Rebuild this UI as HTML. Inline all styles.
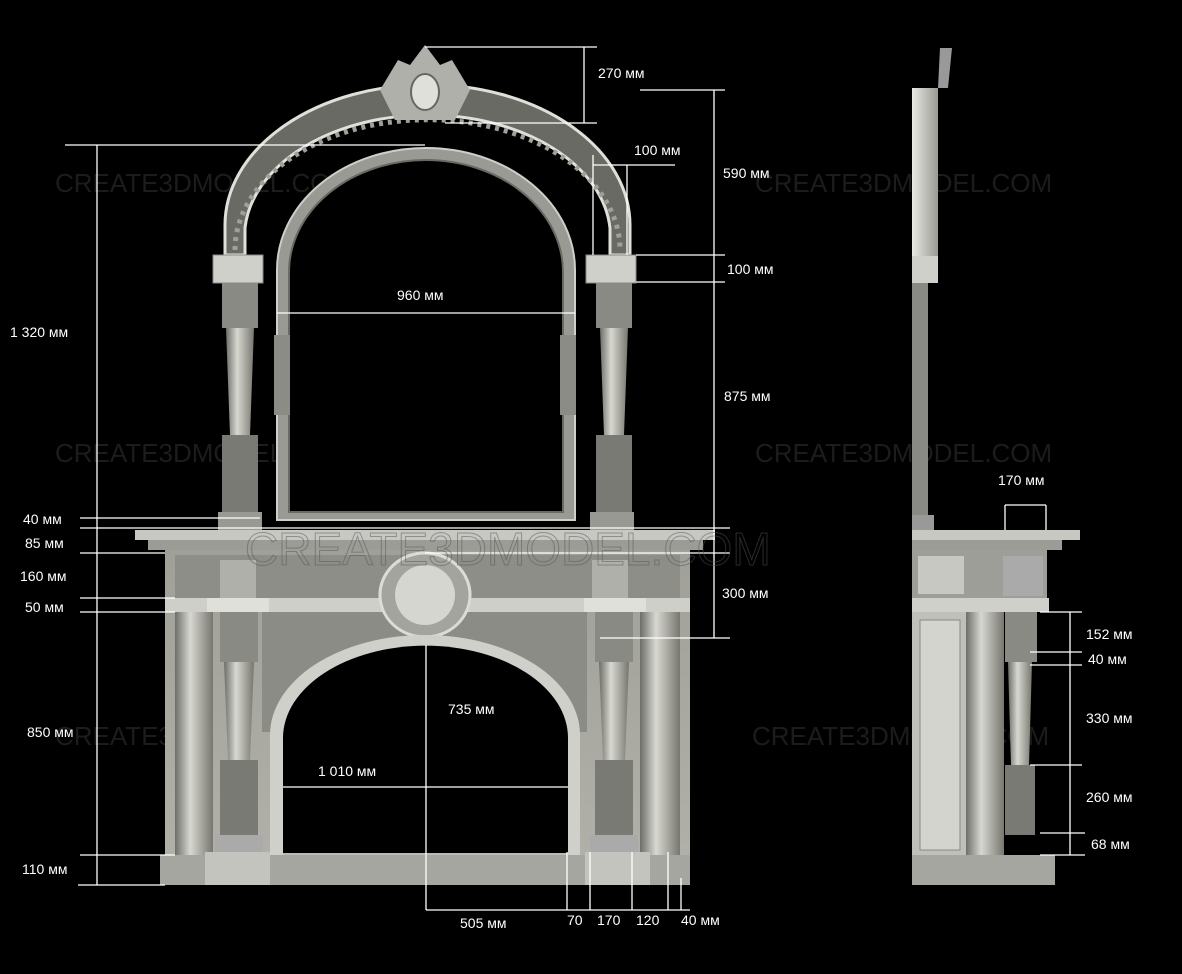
<!DOCTYPE html>
<html><head><meta charset="utf-8"><style>
html,body{margin:0;padding:0;background:#000;}
svg{display:block}
text{font-family:"Liberation Sans",Arial,sans-serif;}
</style></head><body>
<svg width="1182" height="974" viewBox="0 0 1182 974" xmlns="http://www.w3.org/2000/svg">
<defs>
<linearGradient id="col" x1="0" x2="1" y1="0" y2="0">
<stop offset="0" stop-color="#6e6e68"/><stop offset="0.4" stop-color="#d8d8d2"/><stop offset="1" stop-color="#77776f"/>
</linearGradient>
<linearGradient id="body" x1="0" x2="0" y1="0" y2="1">
<stop offset="0" stop-color="#a0a098"/><stop offset="1" stop-color="#b0b0a8"/>
</linearGradient>
<linearGradient id="side" x1="0" x2="1" y1="0" y2="0">
<stop offset="0" stop-color="#e8e8e4"/><stop offset="1" stop-color="#9a9a94"/>
</linearGradient>
</defs>
<rect width="1182" height="974" fill="#000"/>

<!-- watermarks -->
<g fill="#1c1c1c" font-size="26">
<text x="55" y="192">CREATE3DMODEL.COM</text>
<text x="755" y="192">CREATE3DMODEL.COM</text>
<text x="55" y="462">CREATE3DMODEL.COM</text>
<text x="755" y="462">CREATE3DMODEL.COM</text>
<text x="55" y="745">CREATE3DMODEL.COM</text>
<text x="752" y="745">CREATE3DMODEL.COM</text>
</g>

<!-- upper arch -->
<path d="M225,255 L225,225 A202,140 0 0 1 630,225 L630,255 L610,255 L610,228 A183,122 0 0 0 245,228 L245,255 Z" fill="#6a6a64" stroke="#e0e0da" stroke-width="3"/>
<path d="M235,250 A192,130 0 0 1 620,250" fill="none" stroke="#a0a09a" stroke-width="5" stroke-dasharray="4 5"/>
<!-- mirror frame -->
<path d="M277,520 L277,270 A149,122 0 0 1 575,270 L575,520 Z" fill="#9a9a94" stroke="#cfcfc9" stroke-width="2"/>
<path d="M289,512 L289,272 A137,112 0 0 1 563,272 L563,512 Z" fill="#000" stroke="#6a6a64" stroke-width="2"/>
<rect x="274" y="335" width="16" height="80" fill="#8c8c86"/>
<rect x="560" y="335" width="16" height="80" fill="#8c8c86"/>
<!-- crest -->
<path d="M380,90 L398,60 L410,65 L425,45 L440,65 L452,60 L470,90 L455,120 L395,120 Z" fill="#b0b0aa"/>
<ellipse cx="425" cy="92" rx="14" ry="18" fill="#e0e0da" stroke="#666" stroke-width="2"/>
<!-- capital blocks -->
<rect x="213" y="255" width="50" height="28" fill="#d0d0ca" stroke="#888"/>
<rect x="586" y="255" width="50" height="28" fill="#d0d0ca" stroke="#888"/>
<!-- upper columns -->
<rect x="222" y="283" width="36" height="45" fill="#8a8a84"/>
<path d="M226,328 L254,328 L250,435 L230,435 Z" fill="url(#col)"/>
<rect x="222" y="435" width="36" height="80" fill="#7a7a74"/>
<rect x="596" y="283" width="36" height="45" fill="#8a8a84"/>
<path d="M600,328 L628,328 L624,435 L604,435 Z" fill="url(#col)"/>
<rect x="596" y="435" width="36" height="80" fill="#7a7a74"/>
<rect x="218" y="512" width="44" height="18" fill="#999993"/>
<rect x="590" y="512" width="44" height="18" fill="#999993"/>

<!-- mantel shelf -->
<rect x="135" y="530" width="580" height="10" fill="#c8c8c2"/>
<rect x="148" y="540" width="555" height="10" fill="#9c9c96"/>
<!-- body -->
<rect x="165" y="550" width="525" height="305" fill="url(#body)"/>
<rect x="175" y="555" width="505" height="43" fill="#8e8e88"/>
<rect x="165" y="598" width="525" height="14" fill="#cfcfc9"/>
<ellipse cx="425" cy="595" rx="45" ry="42" fill="#a4a49e" stroke="#dcdcd6" stroke-width="3"/>
<ellipse cx="425" cy="595" rx="30" ry="30" fill="#d6d6d0"/>
<rect x="262" y="612" width="325" height="120" fill="#8c8c86"/>
<ellipse cx="425" cy="595" rx="45" ry="42" fill="#a4a49e" stroke="#dcdcd6" stroke-width="3"/>
<ellipse cx="425" cy="595" rx="30" ry="30" fill="#d6d6d0"/>
<!-- firebox arch -->
<path d="M270,855 L270,735 A155,100 0 0 1 580,735 L580,855 Z" fill="#d0d0ca"/>
<path d="M283,855 L283,738 A142,92 0 0 1 568,738 L568,855 Z" fill="#000"/>
<!-- columns -->
<rect x="175" y="612" width="38" height="245" fill="url(#col)"/>
<rect x="640" y="612" width="40" height="245" fill="url(#col)"/>
<rect x="207" y="598" width="62" height="14" fill="#e0e0da"/>
<rect x="584" y="598" width="62" height="14" fill="#e0e0da"/>
<rect x="220" y="612" width="38" height="50" fill="#8a8a84"/>
<path d="M224,662 L254,662 L250,760 L228,760 Z" fill="url(#col)"/>
<rect x="220" y="760" width="38" height="75" fill="#7a7a74"/>
<rect x="595" y="612" width="38" height="50" fill="#8a8a84"/>
<path d="M599,662 L629,662 L625,760 L603,760 Z" fill="url(#col)"/>
<rect x="595" y="760" width="38" height="75" fill="#7a7a74"/>
<rect x="215" y="835" width="48" height="20" fill="#aaa"/>
<rect x="590" y="835" width="48" height="20" fill="#aaa"/>
<rect x="220" y="560" width="36" height="38" fill="#b0b0aa"/>
<rect x="592" y="560" width="36" height="38" fill="#b0b0aa"/>
<!-- base -->
<rect x="283" y="853" width="285" height="14" fill="#bcbcb6"/>
<rect x="160" y="855" width="530" height="30" fill="#a6a6a0"/>
<rect x="205" y="852" width="65" height="33" fill="#c4c4be"/>
<rect x="585" y="852" width="65" height="33" fill="#c4c4be"/>

<!-- side view -->
<rect x="912" y="88" width="26" height="168" fill="url(#side)"/>
<path d="M940,48 L952,48 L948,88 L938,88 Z" fill="#999"/>
<rect x="912" y="256" width="26" height="27" fill="#d0d0ca"/>
<rect x="912" y="283" width="16" height="232" fill="#8a8a84"/>
<rect x="912" y="515" width="22" height="15" fill="#999"/>
<rect x="912" y="530" width="168" height="10" fill="#c8c8c2"/>
<rect x="912" y="540" width="150" height="10" fill="#9c9c96"/>
<rect x="912" y="550" width="135" height="48" fill="#9e9e98"/>
<rect x="918" y="556" width="46" height="38" fill="#c8c8c2"/>
<rect x="1003" y="556" width="40" height="40" fill="#aaa"/>
<rect x="912" y="598" width="137" height="14" fill="#d0d0ca"/>
<rect x="912" y="612" width="54" height="245" fill="#c0c0ba"/>
<rect x="920" y="620" width="40" height="230" fill="#d4d4ce" stroke="#888"/>
<rect x="966" y="612" width="38" height="245" fill="url(#col)"/>
<rect x="1005" y="612" width="32" height="50" fill="#8a8a84"/>
<path d="M1008,662 L1032,662 L1029,765 L1011,765 Z" fill="url(#col)"/>
<rect x="1005" y="765" width="30" height="70" fill="#7a7a74"/>
<rect x="912" y="855" width="143" height="30" fill="#a6a6a0"/>

<!-- dimension lines -->
<g stroke="#fff" stroke-width="1.3" fill="none">
<path d="M425,47 H597 M445,123 H597 M584,47 V123"/>
<path d="M65,145 H425 M97,145 V885 M78,885 H165"/>
<path d="M593,155 V255 M627,165 V255 M593,165 H675"/>
<path d="M640,90 H725 M714,90 V638 M636,255 H725 M636,282 H725 M425,553 H730 M600,638 H730"/>
<path d="M277,313 H575"/>
<path d="M80,518 H260 M80,528 H730 M80,553 H165 M80,598 H175 M80,612 H175 M80,855 H175"/>
<path d="M283,787 H568 M426,645 V910 M426,910 H690"/>
<path d="M567,852 V910 M590,852 V910 M632,852 V910 M668,852 V910 M681,878 V910"/>
<path d="M1005,505 H1046 M1005,505 V530 M1046,505 V530"/>
<path d="M1040,612 H1082 M1070,612 V855 M1030,652 H1082 M1030,665 H1082 M1030,765 H1082 M1040,833 H1085 M1040,855 H1085"/>
</g>
<g fill="#fff" font-size="14">
<text x="598" y="78">270 мм</text>
<text x="634" y="155">100 мм</text>
<text x="723" y="178">590 мм</text>
<text x="727" y="274">100 мм</text>
<text x="397" y="300">960 мм</text>
<text x="10" y="337">1 320  мм</text>
<text x="724" y="401">875 мм</text>
<text x="23" y="524">40 мм</text>
<text x="25" y="548">85 мм</text>
<text x="20" y="581">160 мм</text>
<text x="25" y="612">50 мм</text>
<text x="722" y="598">300 мм</text>
<text x="448" y="714">735 мм</text>
<text x="27" y="737">850 мм</text>
<text x="318" y="776">1 010 мм</text>
<text x="22" y="874">110 мм</text>
<text x="460" y="928">505 мм</text>
<text x="567" y="925">70</text>
<text x="597" y="925">170</text>
<text x="636" y="925">120</text>
<text x="681" y="925">40 мм</text>
<text x="998" y="485">170 мм</text>
<text x="1086" y="639">152 мм</text>
<text x="1088" y="664">40 мм</text>
<text x="1086" y="723">330 мм</text>
<text x="1086" y="802">260 мм</text>
<text x="1091" y="849">68 мм</text>
</g>
<text x="245" y="565" font-size="46" fill="none" stroke="#555" stroke-width="1" opacity="0.5" font-family="Liberation Sans, sans-serif">CREATE3DMODEL.COM</text>
</svg>
</body></html>
